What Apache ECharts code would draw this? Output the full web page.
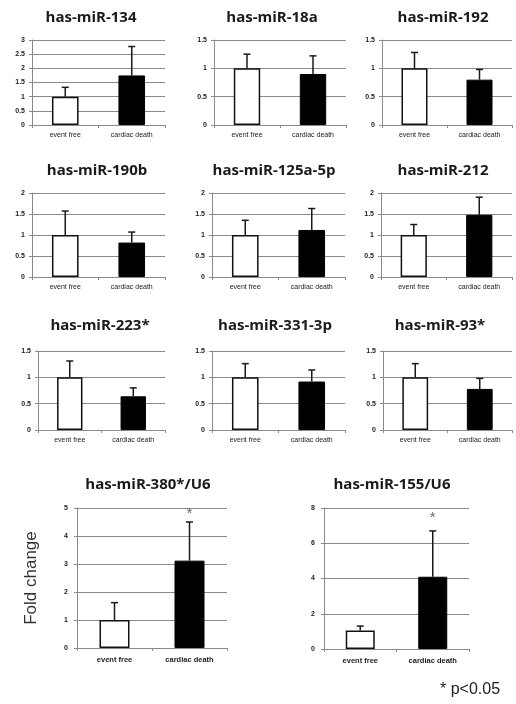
<!DOCTYPE html>
<html>
<head>
<meta charset="utf-8">
<script src="https://cdn.jsdelivr.net/npm/echarts@6/dist/echarts.min.js"></script>
<style>
  html, body { margin: 0; padding: 0; background: #fff; }
  #chart { width: 516px; height: 704px; }
</style>
</head>
<body>
<div id="chart"></div>
<script>
// values
const panelTitles = ['has-miR-134', 'has-miR-18a', 'has-miR-192', 'has-miR-190b', 'has-miR-125a-5p', 'has-miR-212',
  'has-miR-223*', 'has-miR-331-3p', 'has-miR-93*', 'has-miR-380*/U6', 'has-miR-155/U6'];
const categories = ['event free', 'cardiac death'];
const meanValues = [[1, 1.75], [1, 0.9], [1, 0.8], [1, 0.82], [1, 1.12], [1, 1.48],
  [1, 0.64], [1, 0.92], [1, 0.78], [1, 3.12], [1.05, 4.1]];
const errorValues = [[0.33, 1.02], [0.25, 0.32], [0.28, 0.18], [0.57, 0.25], [0.35, 0.51], [0.25, 0.42],
  [0.31, 0.16], [0.26, 0.22], [0.26, 0.2], [0.62, 1.38], [0.25, 2.6]];
const axisMax = [3, 1.5, 1.5, 2, 2, 2, 1.5, 1.5, 1.5, 5, 8];
const axisStep = [0.5, 0.5, 0.5, 0.5, 0.5, 0.5, 0.5, 0.5, 0.5, 1, 2];
const starValues = [null, null, null, null, null, null, null, null, null, 4.8, 7.45];

// layout: [left, top, width, height] and title centre
const gridBoxes = [
  [32, 40, 133, 85], [214, 40, 132, 85], [382, 40, 130, 85],
  [32, 193, 133, 84], [212, 193, 133, 84], [381, 193, 131, 84],
  [38, 351, 127, 79], [212, 351, 133, 79], [383, 351, 129, 79],
  [77, 508, 150, 140], [324, 508, 145, 141]
];
const titlePos = [[91, 18], [272, 18], [443, 18], [97, 171], [274, 171], [443, 171],
  [100, 326], [275, 326], [440, 326], [148, 485], [392, 485]];

const chart = echarts.init(document.getElementById('chart'));
const axisGrey = '#8a8a8a';

const grids = [], xAxes = [], yAxes = [], series = [], graphics = [];

panelTitles.forEach((name, i) => {
  const [l, t, w, h] = gridBoxes[i];
  const big = i >= 9;
  grids.push({ left: l, top: t, width: w, height: h, containLabel: false });
  xAxes.push({
    type: 'category', gridIndex: i, data: categories, boundaryGap: true,
    axisLine: { lineStyle: { color: axisGrey, width: 1 } },
    axisTick: { show: true, length: 3, lineStyle: { color: axisGrey } },
    axisLabel: { fontSize: big ? 7.5 : 7, color: '#222', margin: big ? 8 : 7, fontFamily: 'Liberation Sans', fontWeight: big ? 'bold' : 'normal' }
  });
  yAxes.push({
    type: 'value', gridIndex: i, min: 0, max: axisMax[i], interval: axisStep[i],
    axisLine: { show: true, lineStyle: { color: axisGrey, width: 1 } },
    axisTick: { show: true, length: 3, lineStyle: { color: axisGrey } },
    axisLabel: { fontSize: 7, color: '#222', margin: big ? 9 : 7, fontWeight: 'bold', fontFamily: 'Liberation Sans' },
    splitLine: { lineStyle: { color: axisGrey, width: 1 } },
    name: i === 9 ? 'Fold change' : '',
    nameLocation: 'middle', nameGap: 37, nameRotate: 90,
    nameTextStyle: { fontSize: 17, color: '#333', fontFamily: 'Liberation Sans' }
  });
  series.push({
    type: 'bar', xAxisIndex: i, yAxisIndex: i, barWidth: '40%',
    data: meanValues[i].map((v, k) => ({
      value: v,
      itemStyle: k === 0
        ? { color: '#fff', borderColor: '#111', borderWidth: 1.5 }
        : { color: '#000', borderColor: '#000', borderWidth: 1 }
    })),
    silent: true
  });
  series.push({
    type: 'custom', xAxisIndex: i, yAxisIndex: i, z: 3,
    data: meanValues[i].map((v, k) => [k, v, v + errorValues[i][k]]),
    renderItem: (params, api) => {
      const base = api.coord([api.value(0), api.value(1)]);
      const top = api.coord([api.value(0), api.value(2)]);
      const cap = 3.5;
      const style = { stroke: '#1a1a1a', lineWidth: 1.5 };
      return {
        type: 'group',
        children: [
          { type: 'line', shape: { x1: base[0], y1: base[1], x2: top[0], y2: top[1] }, style },
          { type: 'line', shape: { x1: top[0] - cap, y1: top[1], x2: top[0] + cap, y2: top[1] }, style }
        ]
      };
    }
  });
  if (starValues[i] !== null) {
    series.push({
      type: 'scatter', xAxisIndex: i, yAxisIndex: i, symbolSize: 0,
      data: [[1, starValues[i]]],
      label: { show: true, position: 'inside', formatter: '*', fontSize: 15, color: '#444', fontFamily: 'Liberation Sans' }
    });
  }
  graphics.push({
    type: 'text', x: titlePos[i][0], y: titlePos[i][1],
    style: {
      text: name, textAlign: 'center', textVerticalAlign: 'middle',
      fontSize: 15, fontWeight: 'bold', fill: '#1a1a1a', fontFamily: 'Open Sans'
    }
  });
});

graphics.push({
  type: 'text', x: 440, y: 690,
  style: { text: '* p<0.05', textAlign: 'left', textVerticalAlign: 'middle', fontSize: 16, fill: '#222', fontFamily: 'Liberation Sans' }
});

chart.setOption({
  backgroundColor: '#fff',
  animation: false,
  grid: grids,
  xAxis: xAxes,
  yAxis: yAxes,
  series: series,
  graphic: graphics
});
</script>
</body>
</html>
